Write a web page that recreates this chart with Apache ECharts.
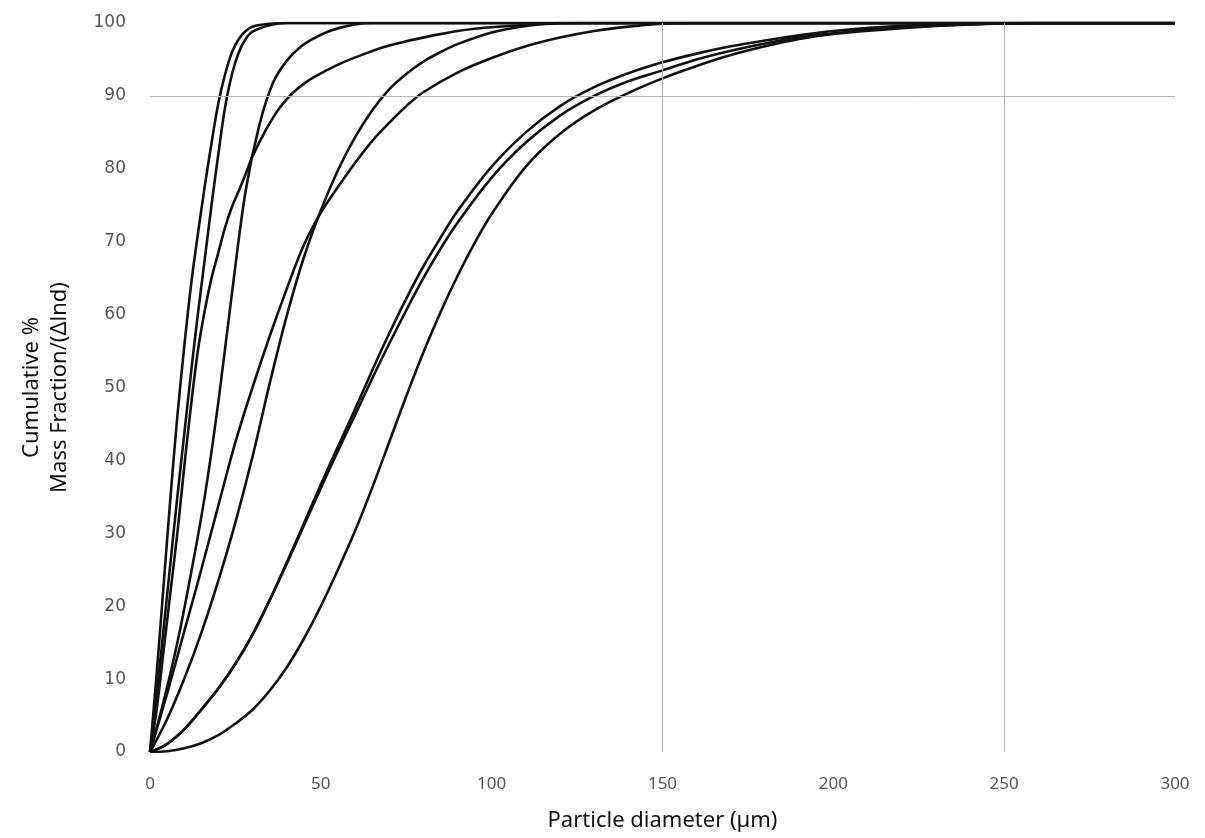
<!DOCTYPE html>
<html>
<head>
<meta charset="utf-8">
<script src="https://cdn.jsdelivr.net/npm/echarts@6/dist/echarts.min.js"></script>
<style>
html,body{margin:0;padding:0;background:#fff;}
#chart{width:1205px;height:838px;}
</style>
</head>
<body>
<div id="chart"></div>
<script>
// Particle diameter (µm) and cumulative % for each curve
const a1D = [0,2,4,6,8,10,12,14,16,18,20,22,24,26,28,30,35,40,50,300];
const a1P = [0,11,23,35,46,55.5,64,71,77.5,83.5,89,93,96,97.8,98.9,99.5,99.9,100,100,100];

const a2D = [0,2,4,6,8,10,12,14,16,18,20,22,24,26,28,30,35,40,50,300];
const a2P = [0,8,17,26,35,43.5,52,60,67.5,75,82,88.5,93,96,97.8,98.8,99.7,100,100,100];

const b1D = [0,4,8,12,16,20,24,28,32,36,40,44,48,52,56,60,65,300];
const b1P = [0,7,15,24.5,35,48,63,77,86,91.8,94.8,96.7,97.9,98.8,99.4,99.8,100,100];

const b2D = [0,2,4,6,8,10,12,14,16,18,20,22,24,26,28,30,34,38,42,46,50,56,63,70,83,95,112,130,300];
const b2P = [0,6,14,22,30,39,47.5,55,60.5,65,68.5,72,74.8,77,79.3,81.7,85.4,88.4,90.5,92,93.1,94.5,95.8,96.9,98.3,99.2,99.8,100,100];

const c1D = [0,5,10,15,20,25,30,35,40,45,50,55,60,65,70,75,80,85,90,100,110,120,300];
const c1P = [0,4.5,10,16.3,23.5,31.5,40.5,50.5,59.8,67.8,74.3,79.8,84.3,88,90.9,93,94.7,96,97.1,98.7,99.6,100,100];

const c2D = [0,5,10,15,20,25,30,35,40,45,50,55,60,65,70,75,80,90,100,110,120,130,140,150,160,300];
const c2P = [0,8,16.5,25,33.8,42.5,50,57,63.5,69.5,74,77.5,80.8,83.8,86.3,88.6,90.5,93.2,95.2,96.8,98,98.9,99.5,99.9,100,100];

const dD = [0,5,10,15,20,25,30,35,40,45,50,55,60,65,70,75,80,85,90,100,110,120,130,140,150,160,170,180,190,200,220,240,260,300];
const d1P = [0,1.1,3.1,5.8,8.7,12.1,16.1,20.8,26,31.3,36.7,41.9,47,52.3,57.4,62.2,66.6,70.5,74.2,80.3,85,88.6,91.2,93.1,94.6,95.8,96.8,97.6,98.3,98.9,99.6,99.9,100,100];
const d2P = [0,1.1,3.1,5.8,8.7,12.1,16.1,20.8,25.8,31,36.2,41.3,46.2,51.2,56,60.6,65,69,72.6,78.8,83.6,87.3,90,92,93.5,95,96.2,97.2,98,98.6,99.4,99.8,100,100];

const d3D = [0,5,10,15,20,25,30,35,40,45,50,55,60,65,70,75,80,85,90,95,100,110,120,130,140,150,160,170,180,190,200,220,240,260,300];
const d3P = [0,0.1,0.5,1.2,2.3,3.9,5.8,8.4,11.6,15.5,20,25,30.3,36.2,42.5,48.8,54.8,60.3,65.3,69.8,73.8,80.3,84.8,88,90.4,92.4,94.1,95.6,96.8,97.8,98.5,99.3,99.8,100,100];

const xTicks = [0,50,100,150,200,250,300];
const yTicks = [0,10,20,30,40,50,60,70,80,90,100];
const gridX = [150,250];
const gridY = [90];

const curves = [
  [a1D,a1P],[a2D,a2P],[b1D,b1P],[b2D,b2P],
  [c1D,c1P],[c2D,c2P],[dD,d1P],[dD,d2P],[d3D,d3P]
];

const series = curves.map(function(c){
  return {
    type:'line',
    data: c[0].map(function(x,i){return [x, c[1][i]];}),
    smooth: 0.35,
    showSymbol: false,
    lineStyle: {color:'#111', width:2.6},
    z: 3
  };
});

series.push({
  type:'line',
  data: [],
  markLine: {
    silent: true,
    symbol: ['none','none'],
    label: {show:false},
    lineStyle: {color:'#b5b5b5', width:1, type:'solid'},
    data: gridX.map(function(v){return {xAxis:v};}).concat(gridY.map(function(v){return {yAxis:v};}))
  },
  z: 1
});

const chart = echarts.init(document.getElementById('chart'));
chart.setOption({
  backgroundColor:'#fff',
  animation:false,
  grid:{left:150, right:30, top:23, bottom:86},
  xAxis:{
    type:'value', min:0, max:300, interval:50,
    axisLine:{show:false}, axisTick:{show:false}, splitLine:{show:false},
    axisLabel:{color:'#555', fontSize:17, margin:24, fontFamily:'Noto Sans, sans-serif',
      formatter:function(v){return xTicks.indexOf(v)>=0 ? String(v) : '';}},
    name:'Particle diameter (µm)', nameLocation:'middle', nameGap:58,
    nameTextStyle:{color:'#111', fontSize:22, fontFamily:'Noto Sans, sans-serif'}
  },
  yAxis:{
    type:'value', min:0, max:100, interval:10,
    axisLine:{show:false}, axisTick:{show:false}, splitLine:{show:false},
    axisLabel:{color:'#555', fontSize:17, margin:24, fontFamily:'DejaVu Sans, sans-serif',
      formatter:function(v){return yTicks.indexOf(v)>=0 ? String(v) : '';}},
    name:'Cumulative %\nMass Fraction/(Δlnd)', nameLocation:'middle', nameGap:76,
    nameTextStyle:{color:'#111', fontSize:22, lineHeight:28, fontFamily:'Noto Sans, sans-serif'}
  },
  series: series
});
</script>
</body>
</html>
